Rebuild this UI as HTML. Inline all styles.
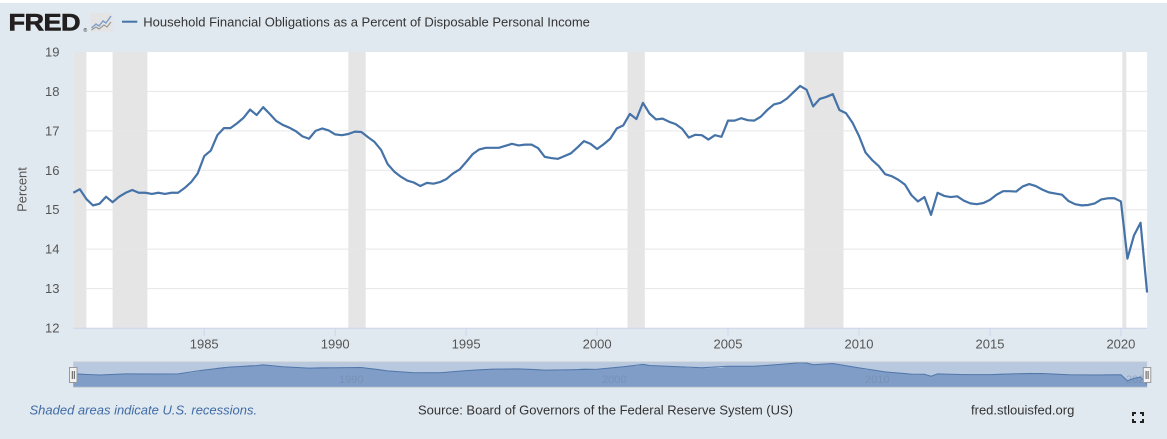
<!DOCTYPE html>
<html><head><meta charset="utf-8"><style>
html,body{margin:0;padding:0;}
body{width:1167px;height:439px;overflow:hidden;background:#e1e9f0;position:relative;font-family:"Liberation Sans",Arial,sans-serif;}
svg{position:absolute;left:0;top:0;}
</style></head><body>
<svg width="1167" height="439" viewBox="0 0 1167 439" xmlns="http://www.w3.org/2000/svg" font-family="Liberation Sans, Arial, sans-serif">
<rect x="0" y="0" width="1167" height="439" fill="#e1e9f0"/>
<rect x="0" y="0" width="1167" height="3" fill="#ffffff"/>
<!-- header -->
<text transform="translate(8.5,30.5) scale(1.13,1)" font-size="24" font-weight="700" fill="#231f20" letter-spacing="-0.5" stroke="#231f20" stroke-width="0.6">FRED</text>
<text x="83.5" y="32" font-size="5" fill="#231f20">®</text>
<g>
<rect x="90.5" y="13" width="22" height="18.5" fill="#e4e4e4"/>
<polyline points="91.5,28 96,24 99,26 103,21 106,23 111,16" fill="none" stroke="#7f9ec7" stroke-width="1.4"/>
<polyline points="91.5,30 96,27 99,29 104,25 107,27 111,22" fill="none" stroke="#999" stroke-width="1.2"/>
</g>
<line x1="122" y1="21.7" x2="137.3" y2="21.7" stroke="#4572a7" stroke-width="2"/>
<text x="143.3" y="26.5" font-size="13" fill="#333">Household Financial Obligations as a Percent of Disposable Personal Income</text>
<!-- plot background -->
<rect x="73.3" y="52" width="1073.8" height="276" fill="#ffffff"/>
<!-- recessions -->
<g fill="#e5e5e5">
<rect x="73.3" y="52" width="13.1" height="276"/>
<rect x="112.6" y="52" width="34.8" height="276"/>
<rect x="348.3" y="52" width="17.4" height="276"/>
<rect x="627.5" y="52" width="17.3" height="276"/>
<rect x="804.3" y="52" width="39.2" height="276"/>
<rect x="1122.3" y="52" width="4" height="276"/>
</g>
<!-- gridlines -->
<g stroke="#e6e6e6" stroke-width="1">
<line x1="73.3" y1="91.4" x2="1147.1" y2="91.4"/>
<line x1="73.3" y1="130.9" x2="1147.1" y2="130.9"/>
<line x1="73.3" y1="170.3" x2="1147.1" y2="170.3"/>
<line x1="73.3" y1="209.7" x2="1147.1" y2="209.7"/>
<line x1="73.3" y1="249.1" x2="1147.1" y2="249.1"/>
<line x1="73.3" y1="288.6" x2="1147.1" y2="288.6"/>
</g>
<!-- x axis -->
<line x1="73.3" y1="328.3" x2="1147.1" y2="328.3" stroke="#ccd6eb" stroke-width="1"/>
<g stroke="#ccd6eb" stroke-width="1">
<line x1="204.2" y1="328" x2="204.2" y2="336"/>
<line x1="335.2" y1="328" x2="335.2" y2="336"/>
<line x1="466.1" y1="328" x2="466.1" y2="336"/>
<line x1="597.1" y1="328" x2="597.1" y2="336"/>
<line x1="728" y1="328" x2="728" y2="336"/>
<line x1="859" y1="328" x2="859" y2="336"/>
<line x1="990" y1="328" x2="990" y2="336"/>
<line x1="1120.9" y1="328" x2="1120.9" y2="336"/>
</g>
<g font-size="13" fill="#555" text-anchor="middle">
<text x="204.2" y="348.5">1985</text>
<text x="335.2" y="348.5">1990</text>
<text x="466.1" y="348.5">1995</text>
<text x="597.1" y="348.5">2000</text>
<text x="728" y="348.5">2005</text>
<text x="859" y="348.5">2010</text>
<text x="990" y="348.5">2015</text>
<text x="1120.9" y="348.5">2020</text>
</g>
<!-- y labels -->
<g font-size="13" fill="#555" text-anchor="end">
<text x="59.5" y="56.5">19</text>
<text x="59.5" y="95.9">18</text>
<text x="59.5" y="135.4">17</text>
<text x="59.5" y="174.8">16</text>
<text x="59.5" y="214.2">15</text>
<text x="59.5" y="253.6">14</text>
<text x="59.5" y="293.1">13</text>
<text x="59.5" y="332.5">12</text>
</g>
<text transform="translate(26.5,189.5) rotate(-90)" font-size="13" fill="#555" text-anchor="middle">Percent</text>
<!-- main series -->
<polyline transform="translate(73.3,801.16) scale(6.5475,-39.43)" fill="none" stroke="#4572a7" stroke-width="2.2" stroke-linejoin="round" vector-effect="non-scaling-stroke" points="0,15.43 1,15.52 2,15.27 3,15.11 4,15.15 5,15.33 6,15.19 7,15.33 8,15.43 9,15.50 10,15.43 11,15.43 12,15.40 13,15.43 14,15.40 15,15.43 16,15.43 17,15.55 18,15.70 19,15.92 20,16.36 21,16.50 22,16.89 23,17.07 24,17.07 25,17.19 26,17.33 27,17.54 28,17.40 29,17.60 30,17.43 31,17.25 32,17.15 33,17.08 34,16.99 35,16.86 36,16.80 37,17.00 38,17.06 39,17.01 40,16.91 41,16.89 42,16.92 43,16.98 44,16.97 45,16.84 46,16.72 47,16.52 48,16.16 49,15.97 50,15.84 51,15.74 52,15.69 53,15.60 54,15.68 55,15.66 56,15.70 57,15.78 58,15.92 59,16.02 60,16.21 61,16.41 62,16.53 63,16.57 64,16.57 65,16.57 66,16.62 67,16.67 68,16.63 69,16.65 70,16.65 71,16.56 72,16.34 73,16.31 74,16.29 75,16.36 76,16.43 77,16.58 78,16.74 79,16.67 80,16.54 81,16.66 82,16.80 83,17.06 84,17.14 85,17.43 86,17.30 87,17.71 88,17.44 89,17.29 90,17.31 91,17.23 92,17.17 93,17.05 94,16.83 95,16.90 96,16.89 97,16.78 98,16.89 99,16.85 100,17.26 101,17.26 102,17.32 103,17.27 104,17.26 105,17.36 106,17.53 107,17.67 108,17.71 109,17.82 110,17.98 111,18.14 112,18.04 113,17.62 114,17.81 115,17.86 116,17.93 117,17.53 118,17.45 119,17.21 120,16.87 121,16.45 122,16.26 123,16.11 124,15.90 125,15.85 126,15.76 127,15.64 128,15.37 129,15.21 130,15.32 131,14.87 132,15.43 133,15.35 134,15.32 135,15.34 136,15.23 137,15.16 138,15.14 139,15.17 140,15.25 141,15.38 142,15.47 143,15.47 144,15.46 145,15.59 146,15.65 147,15.60 148,15.51 149,15.44 150,15.41 151,15.38 152,15.22 153,15.14 154,15.11 155,15.12 156,15.16 157,15.26 158,15.29 159,15.29 160,15.21 161,13.76 162,14.35 163,14.67 164,12.90"/>
<!-- navigator -->
<rect x="73.3" y="362" width="1073.8" height="25.3" fill="#b7c8df"/>
<polygon transform="translate(73.3,437.88) scale(6.5475,-4.15)" fill="#7f9dc6" stroke="none" points="0,12.18 0,15.43 1,15.52 2,15.27 3,15.11 4,15.15 5,15.33 6,15.19 7,15.33 8,15.43 9,15.50 10,15.43 11,15.43 12,15.40 13,15.43 14,15.40 15,15.43 16,15.43 17,15.55 18,15.70 19,15.92 20,16.36 21,16.50 22,16.89 23,17.07 24,17.07 25,17.19 26,17.33 27,17.54 28,17.40 29,17.60 30,17.43 31,17.25 32,17.15 33,17.08 34,16.99 35,16.86 36,16.80 37,17.00 38,17.06 39,17.01 40,16.91 41,16.89 42,16.92 43,16.98 44,16.97 45,16.84 46,16.72 47,16.52 48,16.16 49,15.97 50,15.84 51,15.74 52,15.69 53,15.60 54,15.68 55,15.66 56,15.70 57,15.78 58,15.92 59,16.02 60,16.21 61,16.41 62,16.53 63,16.57 64,16.57 65,16.57 66,16.62 67,16.67 68,16.63 69,16.65 70,16.65 71,16.56 72,16.34 73,16.31 74,16.29 75,16.36 76,16.43 77,16.58 78,16.74 79,16.67 80,16.54 81,16.66 82,16.80 83,17.06 84,17.14 85,17.43 86,17.30 87,17.71 88,17.44 89,17.29 90,17.31 91,17.23 92,17.17 93,17.05 94,16.83 95,16.90 96,16.89 97,16.78 98,16.89 99,16.85 100,17.26 101,17.26 102,17.32 103,17.27 104,17.26 105,17.36 106,17.53 107,17.67 108,17.71 109,17.82 110,17.98 111,18.14 112,18.04 113,17.62 114,17.81 115,17.86 116,17.93 117,17.53 118,17.45 119,17.21 120,16.87 121,16.45 122,16.26 123,16.11 124,15.90 125,15.85 126,15.76 127,15.64 128,15.37 129,15.21 130,15.32 131,14.87 132,15.43 133,15.35 134,15.32 135,15.34 136,15.23 137,15.16 138,15.14 139,15.17 140,15.25 141,15.38 142,15.47 143,15.47 144,15.46 145,15.59 146,15.65 147,15.60 148,15.51 149,15.44 150,15.41 151,15.38 152,15.22 153,15.14 154,15.11 155,15.12 156,15.16 157,15.26 158,15.29 159,15.29 160,15.21 161,13.76 162,14.35 163,14.67 164,12.90 164,12.18"/>
<polyline transform="translate(73.3,437.88) scale(6.5475,-4.15)" fill="none" stroke="#5276aa" stroke-width="1" vector-effect="non-scaling-stroke" points="0,15.43 4,15.15 8,15.43 12,15.40 16,15.43 20,16.36 24,17.07 28,17.40 29,17.60 32,17.15 36,16.80 40,16.91 44,16.97 48,16.16 52,15.69 56,15.70 60,16.21 64,16.57 68,16.63 72,16.34 76,16.43 80,16.54 84,17.14 87,17.71 88,17.44 92,17.17 96,16.89 100,17.26 104,17.26 108,17.71 111,18.14 112,18.04 113,17.62 116,17.93 120,16.87 124,15.90 128,15.37 130,15.32 131,14.87 132,15.43 136,15.23 140,15.25 144,15.46 148,15.51 152,15.22 156,15.16 160,15.21 161,13.76 162,14.35 163,14.67 164,12.90"/>
<line x1="73.3" y1="362" x2="1147.1" y2="362" stroke="#c6ccd3" stroke-width="1"/>
<line x1="73.3" y1="387.3" x2="1147.1" y2="387.3" stroke="#c6ccd3" stroke-width="1"/>
<g font-size="11" fill="#6f86a6" fill-opacity="0.45">
<text x="339" y="383">1990</text>
<text x="602" y="383">2000</text>
<text x="865" y="383">2010</text>
<text x="1126" y="383">202</text>
</g>
<g>
<rect x="69.5" y="367.5" width="7.5" height="15" fill="#f2f2f2" stroke="#999" stroke-width="1"/>
<line x1="72.3" y1="371" x2="72.3" y2="379" stroke="#555" stroke-width="1"/>
<line x1="74.3" y1="371" x2="74.3" y2="379" stroke="#555" stroke-width="1"/>
<rect x="1143.3" y="367.5" width="7.5" height="15" fill="#f2f2f2" stroke="#999" stroke-width="1"/>
<line x1="1146.1" y1="371" x2="1146.1" y2="379" stroke="#555" stroke-width="1"/>
<line x1="1148.1" y1="371" x2="1148.1" y2="379" stroke="#555" stroke-width="1"/>
</g>
<!-- footer -->
<text x="29.5" y="414.5" font-size="13" font-style="italic" fill="#3f6ba5">Shaded areas indicate U.S. recessions.</text>
<text x="418" y="414.5" font-size="13" fill="#333">Source: Board of Governors of the Federal Reserve System (US)</text>
<text x="971" y="414.5" font-size="13" fill="#333">fred.stlouisfed.org</text>
<g fill="none" stroke="#222" stroke-width="2">
<polyline points="1133,416 1133,413 1136,413"/>
<polyline points="1140,413 1143,413 1143,416"/>
<polyline points="1133,419 1133,422 1136,422"/>
<polyline points="1140,422 1143,422 1143,419"/>
</g>
</svg>
</body></html>
